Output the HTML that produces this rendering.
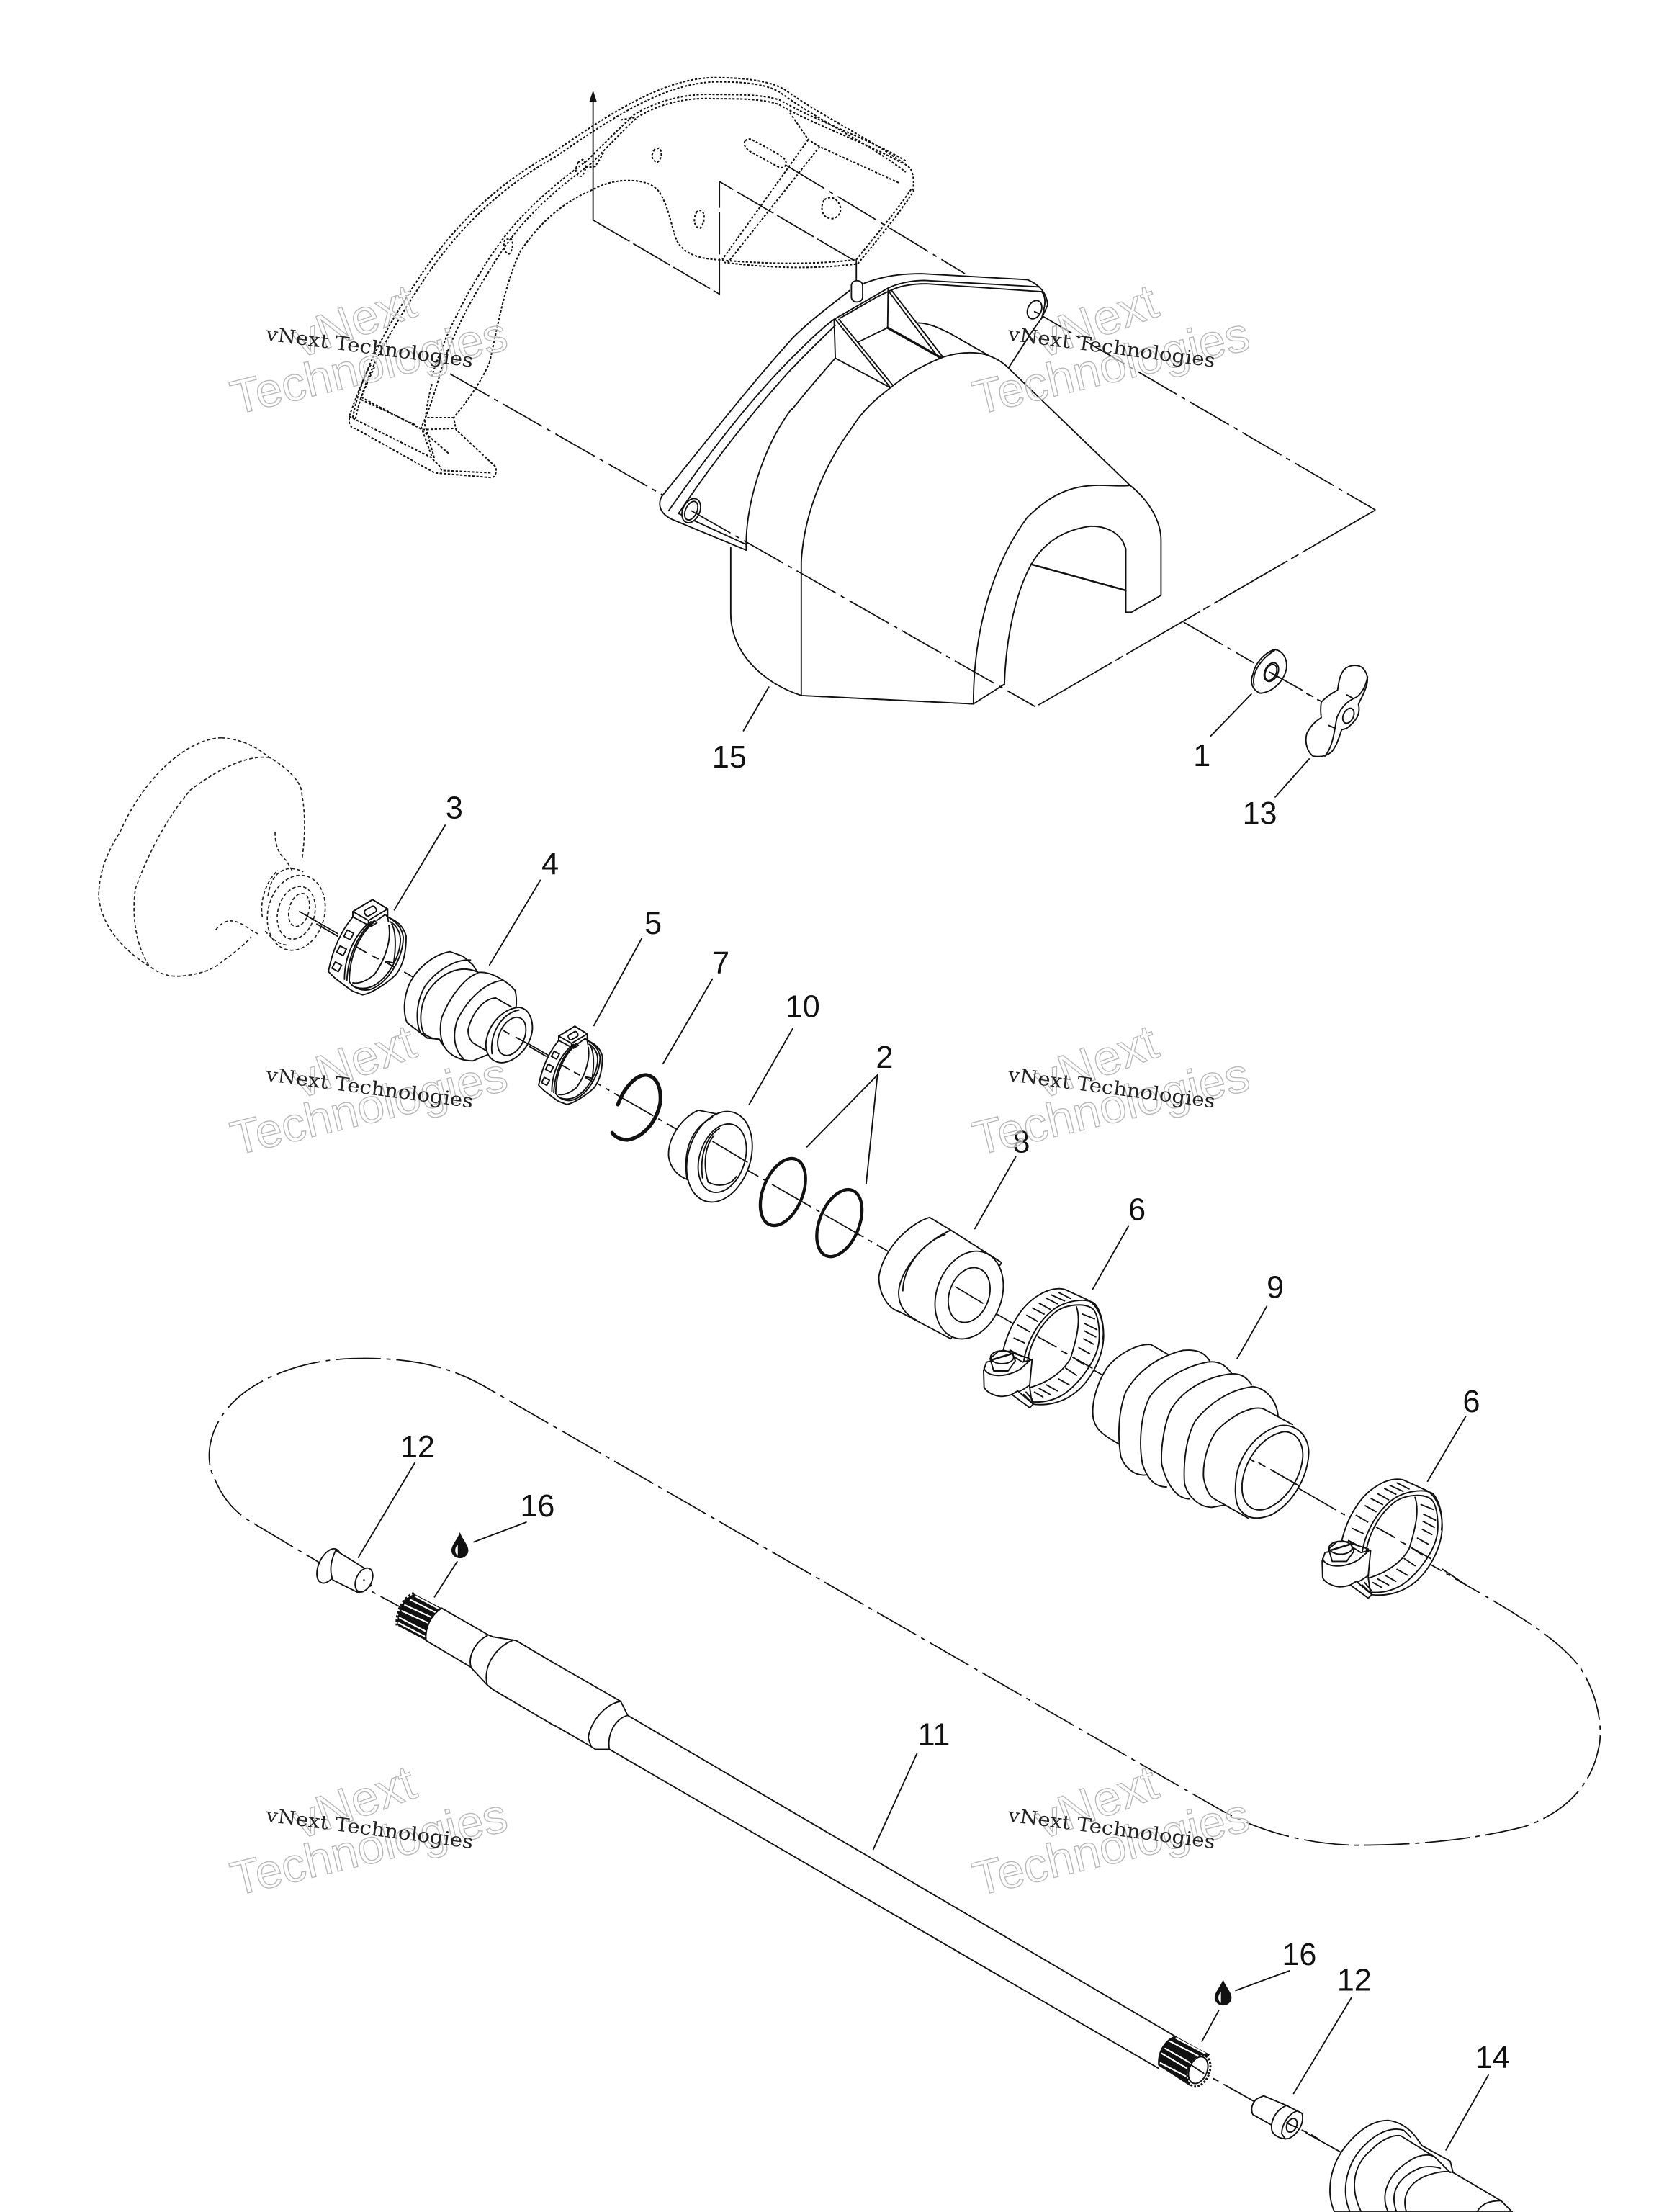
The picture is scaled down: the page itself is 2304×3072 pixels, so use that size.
<!DOCTYPE html>
<html><head><meta charset="utf-8"><title>Exploded parts diagram</title>
<style>
html,body{margin:0;padding:0;background:#fff}
svg{display:block}
.l{fill:none;stroke:#111;stroke-width:.95;stroke-linejoin:round;stroke-linecap:round}
.w{fill:#fff;stroke:#111;stroke-width:.95;stroke-linejoin:round}
.t{fill:none;stroke:#111;stroke-width:1.7;stroke-linecap:round}
.d{fill:none;stroke:#111;stroke-width:1.05;stroke-dasharray:1.6 1.2}
.dd{fill:none;stroke:#222;stroke-width:.85;stroke-dasharray:2.4 1.6}
.a{fill:none;stroke:#111;stroke-width:.9;stroke-dasharray:32 4 3 4}
.zl{fill:none;stroke:#111;stroke-width:1.9;stroke-linejoin:round;stroke-linecap:round;vector-effect:non-scaling-stroke}
.zw{fill:#fff;stroke:#111;stroke-width:1.9;stroke-linejoin:round;stroke-linecap:round;vector-effect:non-scaling-stroke}
.zt{fill:none;stroke:#111;stroke-width:2.6;stroke-linecap:round;vector-effect:non-scaling-stroke}
.zs{fill:none;stroke:#fff;stroke-width:2.2;stroke-linecap:round;vector-effect:non-scaling-stroke}
.zd{fill:none;stroke:#111;stroke-width:6;stroke-dasharray:10 7}
.n{font-family:"Liberation Sans",sans-serif;font-size:22px;fill:#111;text-anchor:middle}
.wm1,.wm2{font-family:"Liberation Sans",sans-serif;fill:#fff;fill-opacity:.55;stroke:#b8b8b8;stroke-width:.7}
.wm1{font-size:35px}.wm2{font-size:34px}
.wm3{font-family:"DejaVu Serif","Liberation Serif",serif;font-size:13.5px;fill:#222}
</style></head><body>
<svg xmlns="http://www.w3.org/2000/svg" width="2304" height="3072" viewBox="0 0 1176 1568">
<defs>
<g id="clamp6" transform="matrix(.17014 0 0 .17014 689.06 898.33)">
<path class="zw" d="M130,345 C150,260 200,160 280,115 C320,90 360,85 385,92 L480,135 C520,155 548,210 548,290 C545,380 490,480 420,530 C370,565 310,578 250,570 L240,500 L240,380 Z"/>
<path class="zl" d="M215,395 C225,320 270,230 340,175 C390,140 470,125 510,150 C540,185 552,250 545,300"/>
<path class="zl" d="M232,385 C245,310 290,230 350,185 C390,155 470,145 505,175 C530,205 535,290 525,330 C510,400 440,490 380,530 C340,555 290,565 250,560"/>
<path class="zl" d="M435,165 C450,210 445,270 410,380 C385,425 330,475 245,500"/>
<path class="zl" d="M175,295 L218,315 M190,240 L238,268 M228,200 L272,225 M252,170 L300,195 M280,150 L325,175 M308,128 L355,152 M330,115 L385,140 M360,105 L410,130 M158,345 L205,370"/>
<path class="zl" d="M460,195 L510,215 M470,235 L520,260 M468,265 L515,290 M465,298 L505,320 M445,335 L490,360 M420,375 L465,405 M390,420 L435,450 M360,465 L405,490 M310,490 L355,515 M280,505 L325,530 M260,520 L295,540"/>
<path class="zl" d="M275,290 L350,332 M375,350 L395,360 M420,375 L500,420"/>
<path class="zw" d="M48,430 L50,500 C60,520 90,535 120,538 C160,538 210,515 240,490 L250,385 L210,395 L170,370 L60,395 Z"/>
<path class="zw" d="M165,530 L190,515 L255,570 L240,585 L220,570 Z"/>
<path class="zl" d="M215,530 L245,560 M225,520 L252,552"/>
<path class="zl" d="M50,420 C60,455 130,465 200,425 L245,385"/>
<path class="zw" d="M75,380 L110,350 L165,350 L180,390 L150,432 L90,432 Z"/>
<ellipse class="zl" cx="125" cy="375" rx="48" ry="27"/>
<path class="zt" d="M85,385 L160,362"/>
</g>
<path id="drop" d="M0,-10 C-1.5,-5 -6,-1 -6,3 A6,5.6 0 0 0 6,3 C6,-1 1.5,-5 0,-10 Z M-1.5,-1 C-3.8,1 -4,5 -1.5,6.8 Z" fill="#111" fill-rule="evenodd"/>
<g id="cl3" transform="matrix(.17014 0 0 .17014 224.6 627.8)">
<path class="zw" d="M150,130 C100,190 65,270 48,358 L75,385 L135,430 L150,440 L190,455 C230,450 300,400 330,370 C360,330 372,280 372,210 C360,170 340,150 295,130 L295,97 L232,58 L150,108 Z"/>
<path class="zl" d="M150,108 L232,58 L295,97 L215,145 Z M150,108 L150,130 L215,165 L215,145"/>
<rect class="zl" x="198" y="92" width="50" height="28" rx="10" transform="rotate(-30 223 106)"/>
<path class="zl" d="M225,150 C170,190 115,280 115,390"/>
<path class="zl" d="M240,150 C180,200 135,290 135,400 C150,425 190,445 230,430 C300,400 360,300 360,215 C355,175 330,150 295,130"/>
<path class="zl" d="M125,395 C130,290 175,195 232,152 M145,415 C170,432 210,432 240,415 C300,380 350,290 348,220 C345,185 325,160 305,150"/>
<path class="zl" d="M300,165 C310,220 290,300 240,370 C210,395 180,410 150,405"/>
<path class="zl" d="M312,160 C330,190 330,260 320,322 L285,315"/>
<path class="zl" d="M215,165 L240,145 L250,155 L225,170 M250,145 L285,120 L295,130 L298,150"/>
<rect class="zl" x="118" y="190" width="30" height="30" transform="rotate(28 133 205)"/>
<rect class="zl" x="88" y="256" width="30" height="30" transform="rotate(28 103 271)"/>
<rect class="zl" x="68" y="323" width="30" height="30" transform="rotate(28 83 338)"/>
<path class="zl" d="M0,160 L85,210 M165,255 L205,278 M230,292 L255,305 M285,318 L320,338"/>
</g>
</defs>
<rect width="1176" height="1568" fill="#fff"/>

<!-- centre axis -->
<path class="a" d="M212,646 L1040,1124"/>

<!-- assembly lines around cover -->
<path d="M420.4,156 V71" class="l"/><path d="M420.4,64 l-2.6,8 h5.2 z" fill="#111"/>
<path class="a" style="stroke-dasharray:30 3" d="M420.4,156 L510,208.5 V128.7 L606,185"/>
<path class="a" d="M557,117 L684,194"/>
<path class="a" d="M732,220 L975,361.5"/>
<path class="a" d="M975,361.5 L734,501" style="stroke-dasharray:60 3 6 3"/>
<path class="a" d="M319,265 L470,351"/>
<path class="a" d="M839,441 L889,470"/>
<path class="l" d="M607,184 V200"/>

<!-- phantom bracket -->
<path class="d" d="M250,296 C256,265 272,235 297,197 C325,155 357,128 391,109 C430,82 470,55 507,55 C530,55 548,58 557,64 C585,84 620,100 645,119 C648,124 648,130 647,135"/>
<path class="d" d="M252,297 C258,266 276,236 300,199 C328,157 360,130 394,111 C433,84 472,58 509,58 C530,58 546,60 555,67 C583,87 618,103 642,122"/>
<path class="d" d="M311,267 C318,245 328,222 345,195 C360,170 375,148 419,116 C430,105 442,92 452,83 C470,72 490,69 507,70 C525,70 540,70 552,74 C580,90 612,100 640,116"/>
<path class="d" d="M306,267 C313,245 323,222 340,194 C355,169 372,146 416,114 C427,103 440,90 450,81 C468,70 490,66 507,67 C525,67 541,67 553,71 C581,87 613,97 642,114"/>
<path class="d" d="M347,257 C352,235 358,200 369,178 C383,157 400,143 419,135 C430,129 438,128 446,128 C458,128 466,132 469,139 C475,150 476,162 480,171 C485,180 495,183 507,184 C540,187 575,188 607,184 C620,168 635,150 646,134"/>
<path class="d" d="M513,186 C545,190 578,191 608,187 C622,170 637,152 648,135"/>
<g transform="matrix(.17014 0 0 .17014 239.9 245)">
<path class="zd" d="M135,80 C105,130 75,210 45,295 L45,320 C50,340 60,345 70,345 L400,530 L640,550 C655,545 660,525 655,505 L490,350 L480,300 C530,240 590,160 630,70"/>
<path class="zd" d="M45,295 L385,465 L420,500 L430,520 L640,530"/>
<path class="zd" d="M95,215 L340,345 L460,450 M95,225 L320,330"/>
<path class="zd" d="M420,130 C400,200 370,290 345,340 L390,465 M390,160 C375,210 365,270 360,330 L400,470"/>
<path class="zd" d="M370,300 L480,300 M350,350 L480,345"/>
<path class="zd" d="M150,90 C130,130 110,180 95,215"/>
</g>
<path class="d" d="M464,106 C461,110 462,114 466,115 C469,113 470,107 467,105 Z"/>
<path class="d" d="M494,150 C491,155 492,161 496,162 C500,158 500,151 497,149 Z"/>
<path class="d" d="M584,142 C581,148 583,155 590,155 C596,154 598,147 593,142 C590,139 586,140 584,142 Z"/>
<path class="d" d="M410,115 C407,120 408,125 412,125 C416,121 416,116 413,113 Z"/>
<path class="d" d="M358,170 C356,175 358,180 361,180 C364,176 364,171 362,169 Z"/>
<path class="d" d="M528,100 C527,103 528,104 531,107 L551,118 C555,120 558,118 557,114 C555,110 538,102 533,99 C531,98 529,99 528,100 Z"/>
<path class="d" d="M573,99 L512,184 M581,104 L516,186"/>
<path class="d" d="M560,80 L573,99 L581,104 L638,130"/>
<path class="d" d="M440,85 L452,83 M415,119 L422,118 L428,108"/>

<!-- cover 15 -->
<path fill="#fff" d="M518,388 L518,435 C518,462 540,484 568,493 L690,499 L712,485 L715,262 L632,250 L529,389 Z"/>
<path class="l" d="M518,388 L518,435 C518,462 540,484 568,493 L690,499 L712,485"/>
<path fill="#fff" d="M604,205 L653,194 L729,199 L741,213 L735,240 L715,262 L529,390 L476,368 L469,352 L561,240 Z"/>
<path class="l" d="M561.5,240 C530,275 495,320 469,352 C466,358 468,364 476,368 L529,390 L529,386"/>
<path class="l" d="M561.5,253.5 C530,285 500,325 474,362 M561.5,261 C535,290 505,328 481,364 L529,386"/>
<path class="l" d="M561,290 C540,318 528,360 529,389"/>
<ellipse class="w" cx="490" cy="362" rx="6" ry="9" transform="rotate(25 490 362)"/>
<ellipse class="l" cx="490" cy="362" rx="4" ry="7" transform="rotate(25 490 362)"/>
<g transform="matrix(.17014 0 0 .17014 561.5 194)">
<path class="zl" d="M0,270 C70,200 150,140 240,70 M300,40 C380,10 450,0 540,0 L980,25 C1030,45 1060,80 1065,130 L1040,185 L1000,240 L900,395"/>
<path class="zl" d="M0,350 C60,290 120,230 175,190 L400,60 C440,40 500,28 550,28 L1030,55"/>
<path class="zl" d="M0,395 C70,320 130,265 180,215 M200,185 C300,130 340,100 410,70 C450,50 500,42 560,42 L1040,75 C1060,100 1055,130 1040,185"/>
<path class="zl" d="M175,190 L180,352 L415,478 M180,190 L410,475 M195,190 L425,472"/>
<path class="zl" d="M400,60 L398,225 L275,285"/>
<path class="zt" d="M398,225 L620,350" style="stroke-width:3.4"/>
<path class="zl" d="M400,70 L610,350 M415,70 L630,350"/>
<path class="zl" d="M525,205 C570,205 620,230 660,250 L870,370"/>
<path class="zl" d="M0,565 C60,490 120,420 180,352"/>
<ellipse class="zl" cx="1010" cy="150" rx="28" ry="40" transform="rotate(25 1010 150)"/>
<path class="zl" d="M1010,158 L1032,168"/>
</g>
<path fill="#fff" d="M568,493 L568,398 C570,364 584,330 604,303 C612,290 622,282 631,275 C643,265 656,258 669,253 C681,249 695,249 703,253 C708,255 712,258 715,261 L801,344 C815,355 823,370 823,383 L823,422 L802,434 L798,434 L798,389 C795,378 785,373 773,373 C750,376 738,388 731,400 C715,420 700,460 690,499 Z"/>
<path class="l" d="M568,398 C570,364 584,330 604,303 C612,290 622,282 631,275 C643,265 656,258 669,253 C681,249 695,249 703,253 C708,255 712,258 715,261 L801,344 C815,355 823,370 823,383 L823,422 L802,434 L798,434 L798,389 C795,378 785,373 773,373 C750,376 738,388 731,400 C720,420 713,452 712,485"/>
<path class="l" d="M690,499 C690,455 700,405 728,367 C745,350 760,344 779,344 C788,344 797,345 801,344"/>
<path class="l" d="M568,398 V493 L690,499"/>
<path class="t" d="M731,400 L798,418.5" style="stroke-width:1.3"/>
<path class="l" d="M798,434 L798,389 L796,384"/>
<path class="a" d="M490,362 L734,501"/>
<rect class="w" x="603.5" y="199" width="8" height="15" rx="3.5"/>

<!-- washer and wing nut -->
<g transform="matrix(.17014 0 0 .17014 877.9 449.2)">
<path class="zw" d="M60,170 C70,120 110,80 150,66 C185,70 205,105 200,145 C190,200 140,245 90,248 C60,235 45,205 60,170 Z"/>
<path class="zl" d="M65,215 C55,170 85,110 150,70"/>
<ellipse class="zw" cx="137" cy="160" rx="27" ry="41" transform="rotate(25 137 160)"/>
<ellipse class="zl" cx="135" cy="161" rx="22" ry="35" transform="rotate(25 135 161)"/>
<path class="zl" d="M130,160 L265,235 M285,250 L310,262 M330,275 L347,283"/>
<path class="zw" d="M345,285 C375,255 395,245 413,235 C418,205 420,175 440,150 C460,130 500,125 520,145 C545,175 540,205 525,240 C515,265 505,280 500,295 C510,335 490,365 450,395 L430,400 C420,430 410,465 390,490 C370,510 340,515 310,510 C285,490 275,450 285,415 C300,385 320,365 345,350 C342,330 342,305 345,285 Z"/>
<path class="zl" d="M538,180 C530,220 510,260 480,270 C450,285 425,310 410,350 C400,400 395,470 360,510"/>
<path class="zl" d="M478,270 L452,255 M405,395 L375,382"/>
<ellipse class="zl" cx="458" cy="342" rx="21" ry="33" transform="rotate(25 458 342)"/>
</g>

<!-- phantom drum -->
<path class="dd" d="M157,523 C130,524 100,555 85,590 C72,610 70,625 70,636 C72,655 85,672 106,685 C115,692 122,692 127,692 C140,691 150,688 157,682 C168,674 175,668 178,664"/>
<path class="dd" d="M157,523 C170,524 180,528 191,537 C205,545 214,555 214,563 C217,580 216,595 214,610"/>
<path class="dd" d="M191,537 C175,535 155,545 135,560 C118,580 105,605 96,630 C93,650 97,672 106,685"/>
<path class="dd" d="M195,590 C195,600 198,606 203,610 L207,617"/>
<path class="dd" d="M153,659 C157,654 161,652 166,653 C172,654 178,660 183,662"/>
<ellipse class="dd" cx="210" cy="647" rx="20" ry="27" transform="rotate(15 210 647)"/>
<path class="dd" d="M190,635 C192,618 203,612 215,618 M186,650 C184,640 188,625 197,617 M188,660 C195,668 200,670 205,670"/>
<ellipse class="dd" cx="210" cy="647" rx="13" ry="19" transform="rotate(15 210 647)"/>
<ellipse class="dd" cx="212" cy="645" rx="7" ry="12" transform="rotate(15 212 645)"/>

<!-- clamp 3 -->
<use href="#cl3"/>

<!-- part 4 -->
<g transform="matrix(.17014 0 0 .17014 224.6 627.8)">
<path class="zw" d="M555,275 C490,285 420,340 385,410 C360,470 360,530 375,570 L460,635 L510,640 L530,670 C555,710 600,730 650,730 L710,705 L830,600 L830,505 C835,460 825,435 825,435 C790,395 720,355 670,362 L650,330 L610,295 Z"/>
<path class="zl" d="M640,310 C580,305 500,350 450,420 C415,480 410,560 430,610 L460,635"/>
<path class="zl" d="M670,360 C590,325 510,370 460,445 C430,500 425,570 445,615 C470,635 490,640 510,640"/>
<path class="zl" d="M670,365 C620,380 555,460 520,550 C510,600 515,640 530,670"/>
<path class="zl" d="M770,395 C700,405 630,470 585,560 C565,620 570,680 610,720"/>
<path class="zl" d="M745,468 C700,470 650,520 630,600 C630,630 640,645 650,655 L710,690 M745,468 L810,505"/>
<path class="zw" d="M705,650 C715,580 770,515 840,507 C880,510 900,550 898,600 C890,670 830,735 770,738 C725,735 700,700 705,650 Z"/>
<path class="zl" d="M730,700 C718,620 770,530 842,518"/>
<ellipse class="zl" cx="812" cy="628" rx="52" ry="84" transform="rotate(25 812 628)"/>
<path class="zl" d="M780,605 L800,617 M830,632 L875,657"/>
</g>

<!-- clamp 5 -->
<g transform="translate(404.4,754.8) scale(.82) translate(-260.3,-671)"><use href="#cl3"/></g>

<!-- part 7 C ring -->
<path class="t" style="stroke-width:2.6" d="M438,783 C442,772 450,762 458,762 C466,763 469,772 468,782 C465,796 456,806 445,808 C440,808 436,806 434,803"/>

<!-- part 10 -->
<path class="w" d="M495,787 C482,793 473,808 474,820 C475,828 481,834 487,836 L505,850 L530,825 L525,795 L510,790 Z"/>
<ellipse class="w" cx="510" cy="820" rx="22" ry="33" transform="rotate(18 510 820)"/>
<ellipse class="l" cx="512" cy="821" rx="16" ry="25" transform="rotate(18 512 821)"/>
<path class="l" d="M505,792 C490,800 484,815 487,836"/>
<path class="l" d="M510,800 C500,806 496,820 498,835"/>
<path class="l" d="M506,805 C500,812 498,825 502,838 C510,842 518,840 522,834"/>
<path class="a" d="M505,809 L530,824"/>

<!-- rings 2 -->
<ellipse class="t" style="stroke-width:2.2" cx="555" cy="845" rx="14" ry="25" transform="rotate(22 555 845)"/>
<ellipse class="t" style="stroke-width:2.2" cx="595" cy="867" rx="14" ry="25" transform="rotate(22 595 867)"/>

<!-- part 8 -->
<path class="w" d="M659,863 C645,867 626,885 623,905 C623,918 630,928 638,930 L674,949 L710,895 L674,872 Z"/>
<path class="l" d="M674,872 C655,880 638,900 637,916 C637,926 642,932 650,936"/>
<path class="l" d="M670,875 C652,882 640,900 640,915"/>
<ellipse class="w" cx="687" cy="918" rx="23" ry="32" transform="rotate(20 687 918)"/>
<ellipse class="l" cx="687" cy="918" rx="14" ry="20" transform="rotate(20 687 918)"/>
<path class="a" d="M677,912 L697,924"/>

<!-- clamp 6 a -->
<use href="#clamp6"/>

<!-- boot 9 -->
<g transform="matrix(.17014 0 0 .17014 689.06 898.33)">
<path fill="#fff" d="M745,322 L1335,655 L1150,1045 L610,735 Z"/>
<path class="zw" d="M820,365 L745,322 C700,318 620,350 565,415 C520,480 495,570 505,630 C515,670 530,690 610,735"/>
<path class="zw" d="M990,390 C965,350 930,342 880,346 C780,370 690,430 640,520 C610,600 605,700 620,790 C640,840 680,870 725,865"/>
<path class="zw" d="M1080,440 C1050,400 1020,390 980,395 C880,415 790,470 740,540 C700,620 695,740 710,820 C730,880 760,915 810,915"/>
<path class="zw" d="M1165,490 C1140,450 1110,440 1070,445 C970,460 880,510 830,590 C800,650 785,760 790,820 C810,900 850,965 905,965"/>
<path class="zw" d="M1275,620 C1270,560 1230,505 1170,497 C1070,510 985,570 930,640 C890,710 880,820 885,900 C900,960 950,1000 1000,1000 L1055,990"/>
<path class="zw" d="M1335,655 L1215,590 C1170,575 1090,610 1020,680 C975,740 960,830 965,880 C975,930 990,955 1010,965 L1150,1045"/>
<path class="zw" d="M1100,880 C1110,790 1180,690 1280,660 C1340,650 1400,690 1403,770 C1400,870 1340,980 1250,1030 C1190,1055 1140,1050 1110,1000 C1095,970 1095,920 1100,880 Z"/>
<path class="zl" d="M1125,900 C1135,800 1210,700 1300,685 C1350,685 1380,730 1378,790 C1370,880 1310,970 1230,1005 C1170,1025 1130,990 1125,930 Z"/>
<path class="zl" d="M1160,800 L1175,810 M1195,815 L1220,830 M1245,843 L1365,912"/>
</g>

<!-- clamp 6 b -->
<use href="#clamp6" x="240" y="135"/>

<!-- big loop -->
<path class="a" d="M1022,1112 L1040,1124 C1075,1144 1105,1162 1120,1182 C1132,1200 1137,1225 1133,1240 C1128,1265 1110,1285 1080,1295 C1040,1305 1000,1308 960,1308 C920,1307 885,1295 860,1280 L349,986 C320,968 290,962 250,963 C210,964 175,980 160,1000 C148,1015 145,1035 152,1048 C158,1062 165,1070 175,1077 L232,1111"/>
<path class="a" d="M232,1111 L300,1148"/>

<!-- part 12 L -->
<ellipse class="w" cx="233" cy="1110" rx="7" ry="13" transform="rotate(25 233 1110)"/>
<path class="w" d="M238,1099 L259,1112 L263,1124 L254,1129 L236,1120 C233,1113 235,1105 238,1099 Z"/>
<ellipse class="w" cx="258" cy="1120" rx="5.5" ry="9" transform="rotate(25 258 1120)"/>
<circle cx="258" cy="1120" r=".6" fill="#111"/>

<!-- shaft -->
<path fill="#fff" d="M393,1179 L440,1206 L445,1216 L834,1444 L821,1466 L432,1240 L422,1240 L419,1238 L393,1223 Z"/>
<path class="l" d="M393,1179 L440,1206 L445,1216 L834,1444 M821,1466 L432,1240 L422,1240 L419,1238 L393,1223"/>
<path class="l" d="M440,1206 C428,1208 418,1222 417,1232 L419,1238"/>
<path class="l" d="M445,1216 C436,1218 430,1230 432,1240"/>
<g transform="matrix(.17014 0 0 .17014 270.5 1112.7)">
<path fill="#fff" d="M250,160 L445,272 L560,295 L720,390 L720,650 L465,500 L370,405 L185,295 Z"/>
<path d="M135,100 L250,160 C205,190 180,240 185,295 L70,235 C60,205 75,160 95,125 Z" fill="#111"/>
<path d="M135,98 C90,120 60,170 65,232" fill="none" stroke="#111" stroke-width="13" stroke-dasharray="9 8"/>
<path class="zs" d="M140,110 L238,162 M120,125 L225,178 M97,147 L205,197 M85,172 L195,222 M75,200 L180,255 M72,222 L178,277" />
<path class="zl" d="M250,160 L445,272 L465,280 L560,295 L720,390"/>
<path class="zl" d="M185,295 L370,405 L440,480 L465,500 L720,650"/>
<path class="zl" d="M250,160 C205,190 180,240 185,295"/>
<path class="zl" d="M440,275 C390,300 360,360 372,405"/>
<path class="zl" d="M545,295 C480,320 420,400 440,480"/>
</g>

<!-- right spline and bolt -->
<g transform="matrix(.17014 0 0 .17014 811.56 1424.05)">
<path d="M125,112 L270,190 L190,322 L55,235 C50,180 80,130 125,112 Z" fill="#111"/>
<path class="zs" d="M130,122 L250,185 M105,135 L225,197 M85,165 L190,225 M70,185 L180,250 M65,225 L170,280" />
<ellipse cx="225" cy="258" rx="44" ry="68" transform="rotate(22 225 258)" fill="#fff" stroke="#111" stroke-width="9" stroke-dasharray="8 7"/>
<ellipse cx="222" cy="255" rx="37" ry="58" transform="rotate(22 222 255)" fill="#fff" stroke="#111" stroke-width="6"/>
<path class="zl" d="M195,235 L245,268"/>
<path class="zl" d="M285,290 L305,300 M330,315 L455,385"/>
<path class="zw" d="M465,375 L495,362 L590,402 L540,480 L525,482 L450,440 C440,420 445,395 465,375 Z"/>
<path class="zw" d="M590,402 C545,420 520,470 530,510 C540,530 570,545 600,540 C640,520 665,475 655,435 Z"/>
<path class="zl" d="M635,425 C600,435 570,480 570,520 L585,542"/>
<ellipse class="zl" cx="612" cy="485" rx="20" ry="30" transform="rotate(25 612 485)"/>
<path class="zl" d="M590,475 L635,495"/>
<path class="zl" d="M655,505 L675,515 M695,525 L720,540"/>
</g>
<path class="l" d="M926,1512 L953,1527"/>

<!-- part 14 -->
<path class="w" d="M946,1568 C940,1555 942,1535 955,1520 C965,1508 975,1503 984,1503 C992,1504 998,1508 1003,1514 L1008,1521 L1028,1532 L1030,1540 L1064,1560 L1072,1568 Z"/>
<path class="l" d="M957,1568 C950,1552 955,1532 968,1520 C978,1510 988,1508 995,1510 L1000,1515"/>
<path class="l" d="M965,1568 C956,1550 960,1534 972,1524 C980,1516 988,1513 993,1514 L1017,1529"/>
<path class="l" d="M984,1568 C978,1555 984,1540 1002,1530 C1008,1527 1014,1527 1017,1529 L1028,1540"/>
<path class="l" d="M990,1568 C985,1555 990,1544 1006,1537 C1012,1535 1018,1536 1021,1537"/>
<path class="l" d="M997,1568 C993,1556 1000,1545 1015,1541 C1022,1539 1026,1539 1030,1540"/>
<path class="l" d="M1047,1568 C1050,1562 1056,1560 1064,1560"/>

<!-- drops -->
<use href="#drop" x="326" y="1096"/>
<use href="#drop" x="867" y="1413"/>

<!-- leaders -->
<g class="l">
<path d="M545,487 L527,518 M887,492 L858,522 M928,538 L904,565"/>
<path d="M315.5,585 L279.5,645 M383,624 L347,684 M455,665 L421,727 M505,694 L470,754 M562,729 L531,783"/>
<path d="M622,762 L572,813 M622,762 L614,839"/>
<path d="M720,820 L691,871 M800,869 L774.5,914 M898,926 L877,963 M1039,1004 L1012,1050"/>
<path d="M294,1037 L254,1104 M373,1079 L336,1093 M324,1107 L308,1132"/>
<path d="M650,1243 L619,1311"/>
<path d="M914,1397 L876,1411 M864,1425 L852,1447 M958,1416 L917,1484 M1055,1471 L1025,1524"/>
</g>

<!-- part numbers -->
<g class="n">
<text x="517" y="544">15</text><text x="852" y="543">1</text><text x="893" y="584">13</text>
<text x="322" y="580">3</text><text x="390" y="620">4</text><text x="463" y="662">5</text><text x="511" y="690">7</text>
<text x="569" y="721">10</text><text x="627" y="757">2</text><text x="724" y="817">8</text><text x="806" y="865">6</text>
<text x="904" y="920">9</text><text x="1043" y="1001">6</text><text x="296" y="1033">12</text><text x="381" y="1075">16</text>
<text x="662" y="1237">11</text><text x="921" y="1393">16</text><text x="960" y="1411">12</text><text x="1058" y="1466">14</text>
</g>

<!-- watermarks -->
<g>
<text class="wm1" transform="translate(213,254) rotate(-20)">vNext</text>
<text class="wm2" transform="translate(167,294) rotate(-13.5)" textLength="200" lengthAdjust="spacingAndGlyphs">Technologies</text>
<text class="wm3" transform="translate(188,241) rotate(7.5)" textLength="148" lengthAdjust="spacingAndGlyphs">vNext Technologies</text>
<text class="wm1" transform="translate(739,254) rotate(-20)">vNext</text>
<text class="wm2" transform="translate(693,294) rotate(-13.5)" textLength="200" lengthAdjust="spacingAndGlyphs">Technologies</text>
<text class="wm3" transform="translate(714,241) rotate(7.5)" textLength="148" lengthAdjust="spacingAndGlyphs">vNext Technologies</text>
<text class="wm1" transform="translate(213,779) rotate(-20)">vNext</text>
<text class="wm2" transform="translate(167,819) rotate(-13.5)" textLength="200" lengthAdjust="spacingAndGlyphs">Technologies</text>
<text class="wm3" transform="translate(188,766) rotate(7.5)" textLength="148" lengthAdjust="spacingAndGlyphs">vNext Technologies</text>
<text class="wm1" transform="translate(739,779) rotate(-20)">vNext</text>
<text class="wm2" transform="translate(693,819) rotate(-13.5)" textLength="200" lengthAdjust="spacingAndGlyphs">Technologies</text>
<text class="wm3" transform="translate(714,766) rotate(7.5)" textLength="148" lengthAdjust="spacingAndGlyphs">vNext Technologies</text>
<text class="wm1" transform="translate(213,1304) rotate(-20)">vNext</text>
<text class="wm2" transform="translate(167,1344) rotate(-13.5)" textLength="200" lengthAdjust="spacingAndGlyphs">Technologies</text>
<text class="wm3" transform="translate(188,1291) rotate(7.5)" textLength="148" lengthAdjust="spacingAndGlyphs">vNext Technologies</text>
<text class="wm1" transform="translate(739,1304) rotate(-20)">vNext</text>
<text class="wm2" transform="translate(693,1344) rotate(-13.5)" textLength="200" lengthAdjust="spacingAndGlyphs">Technologies</text>
<text class="wm3" transform="translate(714,1291) rotate(7.5)" textLength="148" lengthAdjust="spacingAndGlyphs">vNext Technologies</text>
</g>
</svg>
</body></html>
